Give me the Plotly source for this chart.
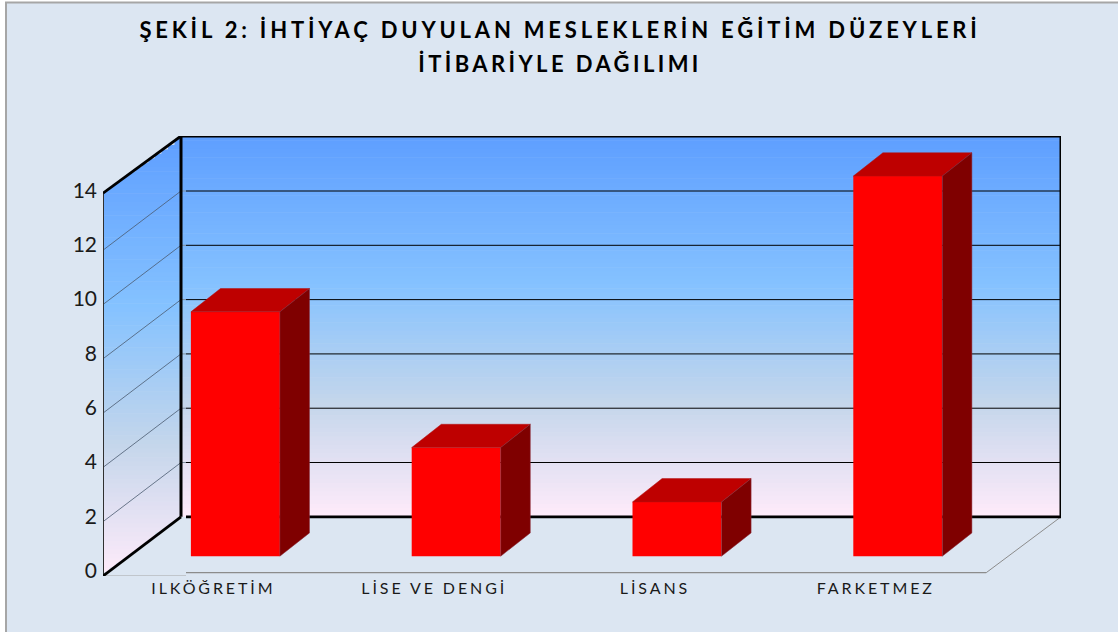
import plotly.graph_objects as go

categories = ["ILKÖĞRETİM", "LİSE VE DENGİ", "LİSANS", "FARKETMEZ"]
values = [9, 4, 2, 14]
y_ticks = [0, 2, 4, 6, 8, 10, 12, 14]
title_lines = ["ŞEKİL 2: İHTİYAÇ DUYULAN MESLEKLERİN EĞİTİM DÜZEYLERİ", "İTİBARİYLE DAĞILIMI"]

W, H = 1118, 632
ML, MR, MT, MB = 103, 57, 136, 56
PX_X = 220.8
PX_Y = 27.15
X0 = -0.5
X1 = X0 + (W - ML - MR) / PX_X
Y0 = -0.2
Y1 = Y0 + (H - MT - MB) / PX_Y

# wall geometry in axis units
DX = 78 / PX_X
BACK_LIFT = 1.98
FRONT_DROP = -0.2
BACK_TOP = Y1
FRONT_TOP = 14 - 0.1
# bar geometry in axis units
BAR_W = 89 / PX_X
BAR_SHIFT = 22 / PX_X
BAR_BASE = 0.53
BAR_DX = 29.6 / PX_X
BAR_DY = 23.3 / PX_Y

STOPS = [(0.0, (94, 158, 255)), (0.39, (133, 194, 255)), (0.70, (196, 214, 235)), (1.0, (255, 235, 250))]


def grad(t):
    for (a, ca), (b, cb) in zip(STOPS, STOPS[1:]):
        if t <= b:
            f = (t - a) / (b - a)
            return "rgb(%d,%d,%d)" % tuple(round(p + (q - p) * f) for p, q in zip(ca, cb))
    return "rgb(255,235,250)"


def poly(pts, **kw):
    d = "M" + " L".join(f"{x:.4f},{y:.4f}" for x, y in pts) + " Z"
    return dict(type="path", path=d, xref="x", yref="y", layer="below", **kw)


def seg(x0, y0, x1, y1, color, width):
    return dict(type="line", xref="x", yref="y", x0=x0, y0=y0, x1=x1, y1=y1, layer="below",
                line=dict(color=color, width=width))


shapes = []
# page panel
px = lambda v: (v - ML) / (W - ML - MR)
py = lambda v: 1 - (v - MT) / (H - MT - MB)
shapes.append(dict(type="rect", xref="paper", yref="paper", x0=px(6), x1=px(W + 5), y0=py(H + 5), y1=py(2.5),
                   fillcolor="#DCE6F2", line=dict(color="#A6A6A6", width=2), layer="below"))

# back wall gradient bands
back_left = X0 + DX
back_right = X1
back_bottom = BACK_LIFT
N = 90
for k in range(N):
    a = BACK_TOP - (BACK_TOP - back_bottom) * k / N
    b = BACK_TOP - (BACK_TOP - back_bottom) * (k + 1) / N - 0.02
    shapes.append(dict(type="rect", xref="x", yref="y", x0=back_left, x1=back_right, y0=max(b, back_bottom), y1=a,
                       fillcolor=grad((k + .5) / N), line=dict(width=0), layer="below"))

# left wall gradient bands (screen-horizontal, clipped to the parallelogram)
top_at = lambda x: FRONT_TOP + (BACK_TOP - FRONT_TOP) * (x - X0) / DX
bot_at = lambda x: FRONT_DROP + (BACK_LIFT - FRONT_DROP) * (x - X0) / DX
M = 100
for k in range(M):
    a = BACK_TOP - (BACK_TOP - FRONT_DROP) * k / M
    b = BACK_TOP - (BACK_TOP - FRONT_DROP) * (k + 1) / M - 0.02
    steps = 12
    xs = [X0 + DX * j / steps for j in range(steps + 1)]
    upper = [(x, min(a, top_at(x))) for x in xs]
    lower = [(x, max(b, bot_at(x))) for x in xs]
    keep = [i for i in range(len(xs)) if upper[i][1] > lower[i][1]]
    if not keep:
        continue
    pts = [upper[i] for i in keep] + [lower[i] for i in reversed(keep)]
    shapes.append(poly(pts, fillcolor=grad((k + .5) / M), line=dict(width=0)))

# gridlines on both walls
GAP = 5 / PX_X
for v in y_ticks[1:-1]:
    yf = v + FRONT_DROP
    yb = v + BACK_LIFT
    shapes.append(seg(X0, yf, back_left, yb, "#4A5A70", 0.8))
    shapes.append(seg(back_left, yb, back_left + GAP, yb, "#8090A0", 1))
    shapes.append(seg(back_left + GAP, yb, back_right, yb, "#000000", 1))

# floor outline
floor_front = X0 + 4
step = 3.3 / PX_Y
shapes.append(seg(X0, FRONT_DROP, back_left + GAP, FRONT_DROP, "#A6A6A6", 1.2))
shapes.append(seg(back_left + GAP, FRONT_DROP + step, floor_front, FRONT_DROP + step, "#8C8C8C", 1.2))
shapes.append(seg(floor_front, FRONT_DROP + step, back_right, BACK_LIFT, "#8C8C8C", 1))

# wall outlines
shapes.append(seg(X0, FRONT_DROP, X0, FRONT_TOP, "#303030", 2))
shapes.append(seg(X0, FRONT_TOP, back_left, BACK_TOP, "#000000", 2.8))
shapes.append(seg(back_left, BACK_TOP, back_right, BACK_TOP, "#000000", 2.8))
shapes.append(seg(back_right, BACK_TOP, back_right, BACK_LIFT, "#000000", 3))
shapes.append(seg(back_left, BACK_TOP, back_left, BACK_LIFT, "#000000", 3))
shapes.append(seg(back_left + GAP, BACK_LIFT, back_right, BACK_LIFT, "#000000", 2.8))
shapes.append(seg(X0, FRONT_DROP, back_left, BACK_LIFT, "#000000", 2.8))

fig = go.Figure()
xpos = list(range(len(categories)))

# top and side faces, from the same values as the front faces
for i, v in enumerate(values):
    l = xpos[i] + BAR_SHIFT - BAR_W / 2
    r = l + BAR_W
    t = BAR_BASE + v
    fig.add_trace(go.Scatter(
        x=[l, l + BAR_DX, r + BAR_DX, r, l], y=[t, t + BAR_DY, t + BAR_DY, t, t],
        mode="lines", fill="toself", fillcolor="#BE0000", line=dict(color="#B01010", width=0.5),
        hoverinfo="skip", showlegend=False))
    fig.add_trace(go.Scatter(
        x=[r, r + BAR_DX, r + BAR_DX, r, r], y=[t, t + BAR_DY, BAR_BASE + BAR_DY, BAR_BASE, t],
        mode="lines", fill="toself", fillcolor="#7F0000", line=dict(color="#8A3040", width=0.5),
        hoverinfo="skip", showlegend=False))

fig.add_trace(go.Bar(x=[p + BAR_SHIFT for p in xpos], y=values, base=BAR_BASE, width=BAR_W,
                     marker=dict(color="#FF0000", line=dict(width=0)), showlegend=False,
                     customdata=categories, hovertemplate="%{customdata}: %{y}<extra></extra>"))

fig.update_layout(
    width=W, height=H, margin=dict(l=ML, r=MR, t=MT, b=MB, pad=0),
    paper_bgcolor="#FFFFFF", plot_bgcolor="rgba(0,0,0,0)",
    font=dict(family="Lato", color="#111111"),
    title=dict(text="<br>".join(title_lines), x=560 / W, xanchor="center", y=0.940, yanchor="top",
               font=dict(family="Lato", size=22, color="#000000", weight="bold")),
    shapes=shapes, showlegend=False,
    xaxis=dict(range=[X0, X1], tickmode="array", tickvals=xpos, ticktext=categories, showgrid=False,
               zeroline=False, showline=False, ticks="", tickfont=dict(size=16, color="#1a1a1a"), ticklabelstandoff=1),
    yaxis=dict(range=[Y0, Y1], tickmode="array", tickvals=y_ticks, showgrid=False, zeroline=False,
               showline=False, ticks="", tickfont=dict(size=21, color="#1a1a1a"), ticklabelstandoff=5),
)

post = """
document.documentElement.style.margin='0';document.body.style.margin='0';
document.querySelectorAll('.gtitle').forEach(function(e){e.style.letterSpacing='3.8px';});
document.querySelectorAll('.gtitle tspan.line').forEach(function(s,i){
  if(i==1){s.style.letterSpacing='3.4px';s.setAttribute('y',parseFloat(s.getAttribute('y'))+5);}
});
document.querySelectorAll('.xtick text').forEach(function(e){e.style.letterSpacing='2.9px';});
"""
fig.write_html("out.html", post_script=post, config={"displayModeBar": False})
